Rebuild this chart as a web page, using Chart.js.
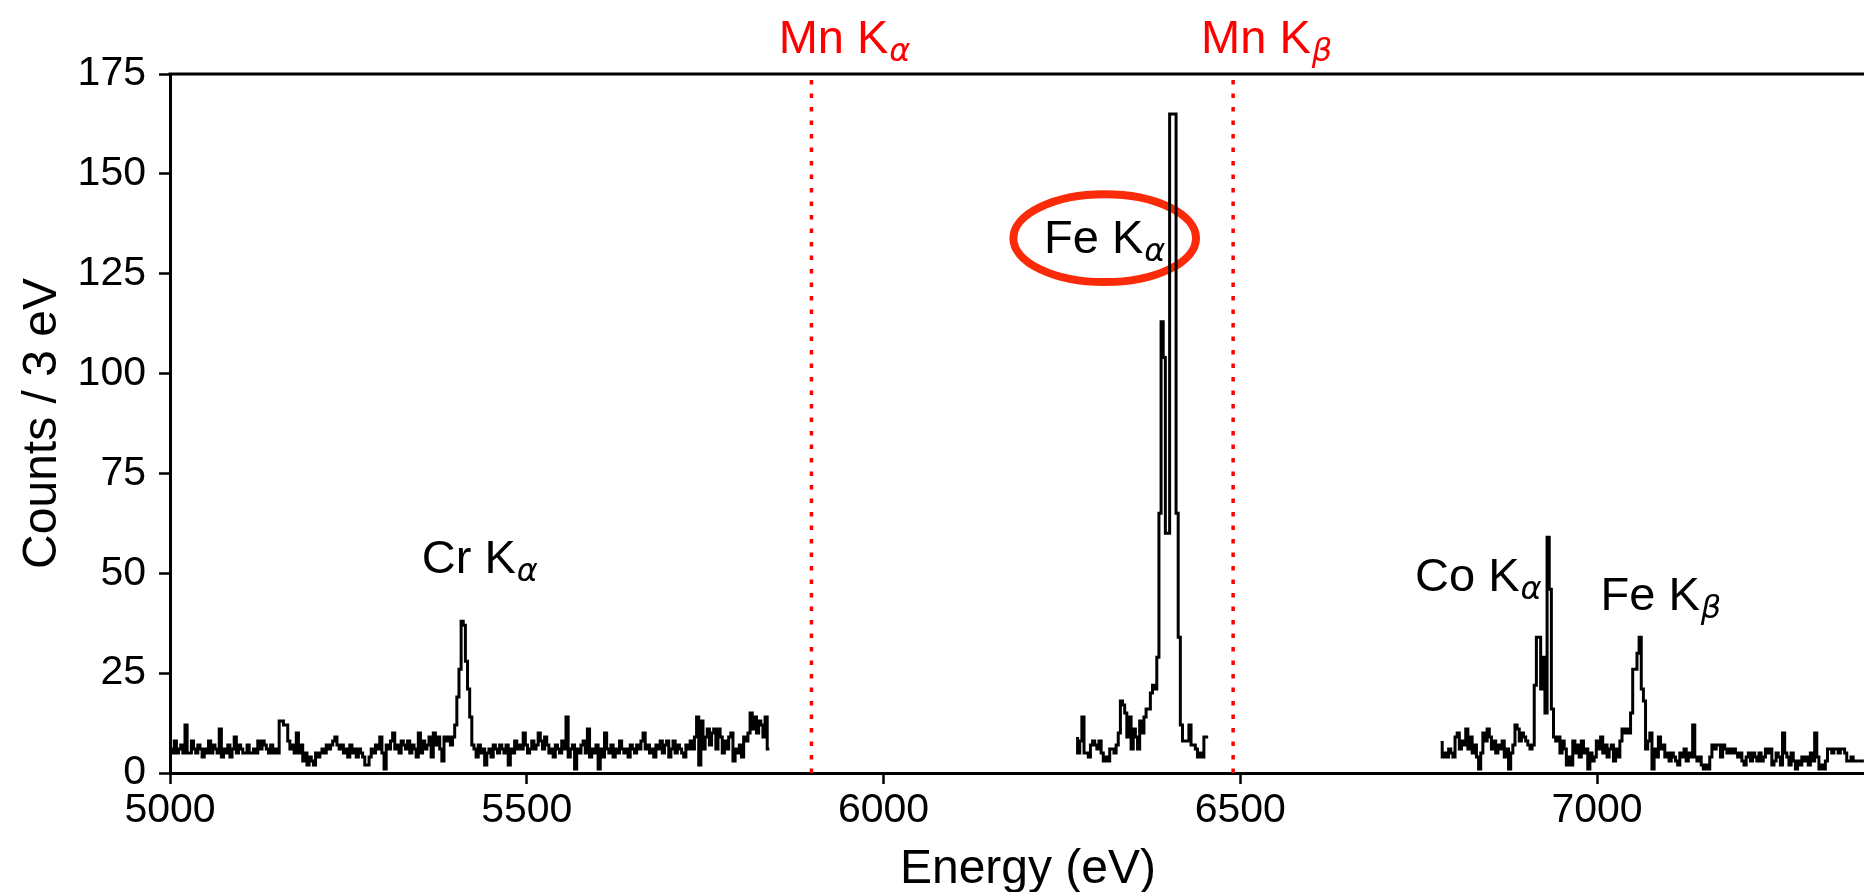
<!DOCTYPE html>
<html>
<head>
<meta charset="utf-8">
<title>X-ray spectrum</title>
<script src="https://cdn.jsdelivr.net/npm/chart.js@4.4.1/dist/chart.umd.min.js"></script>
<style>
    html, body { margin: 0; padding: 0; background: #fff; overflow: hidden; }
    #wrap { width: 1900px; height: 892px; }
</style>
</head>
<body>
<div id="wrap"><canvas id="spectrum" width="1900" height="892"></canvas></div>
<script>
// Bin width of the spectrum (eV)
const binWidth = 3;

// Segment 1: 5000 - 5840 eV (Cr K-alpha region)
const seg1Start = 5000;
const seg1Counts = [
    9, 6, 5, 8, 5, 6, 7, 5, 12, 5,
    5, 8, 6, 5, 7, 6, 4, 6, 5, 8,
    5, 7, 6, 5, 11, 4, 6, 5, 7, 4,
    6, 9, 5, 7, 6, 5, 5, 7, 5, 5,
    6, 5, 8, 6, 8, 7, 6, 5, 7, 5,
    6, 5, 13, 13, 12, 12, 8, 6, 7, 5,
    10, 5, 7, 3, 5, 2, 4, 3, 2, 5,
    4, 5, 6, 5, 7, 6, 7, 8, 9, 7,
    6, 7, 5, 6, 4, 7, 5, 6, 4, 6,
    5, 4, 2, 2, 4, 6, 5, 7, 6, 9,
    5, 1, 7, 6, 8, 10, 6, 7, 5, 8,
    7, 6, 8, 5, 7, 6, 4, 10, 5, 8,
    6, 7, 9, 4, 10, 7, 9, 6, 3, 9,
    8, 9, 7, 9, 12, 19, 26, 38, 37, 28,
    21, 14, 7, 6, 4, 7, 5, 6, 2, 5,
    6, 4, 7, 6, 5, 7, 6, 5, 7, 2,
    6, 5, 8, 6, 7, 6, 10, 7, 5, 6,
    8, 6, 7, 10, 8, 6, 9, 7, 5, 6,
    4, 7, 6, 5, 8, 6, 14, 4, 6, 7,
    1, 6, 5, 7, 8, 5, 11, 4, 6, 5,
    7, 1, 6, 4, 10, 6, 5, 7, 4, 6,
    5, 8, 6, 5, 6, 4, 7, 6, 5, 7,
    6, 8, 10, 6, 7, 5, 6, 4, 7, 6,
    8, 5, 7, 8, 4, 6, 8, 5, 7, 6,
    5, 4, 7, 6, 8, 6, 9, 14, 2, 13,
    6, 9, 11, 7, 10, 11, 6, 11, 9, 5,
    8, 6, 9, 10, 3, 6, 5, 7, 4, 9,
    8, 10, 15, 11, 14, 10, 13, 12, 9, 14,
    6
];

// Segment 2: 6272 - 6455 eV (Fe K-alpha)
const seg2Start = 6272;
const seg2Counts = [
    9, 5, 8, 14, 5, 5, 4, 7, 8, 7,
    6, 8, 5, 3, 4, 3, 6, 6, 5, 7,
    10, 18, 17, 15, 9, 14, 6, 11, 9, 6,
    13, 10, 14, 16, 16, 20, 22, 21, 29, 65,
    113, 104, 60, 60, 165, 165, 165, 65, 34, 12,
    8, 8, 8, 12, 7, 7, 6, 4, 5, 4,
    9, 9
];

// Segment 3: 6783 eV to the right edge (Co K-alpha, Fe K-beta)
const seg3Start = 6783;
const seg3Counts = [
    8, 4, 5, 4, 6, 5, 4, 9, 10, 6,
    8, 7, 11, 6, 9, 5, 7, 4, 1, 5,
    10, 8, 11, 9, 6, 8, 5, 7, 6, 8,
    4, 6, 1, 5, 7, 12, 11, 8, 10, 9,
    8, 7, 6, 7, 22, 34, 34, 21, 29, 15,
    59, 46, 16, 9, 8, 9, 5, 8, 6, 2,
    4, 2, 8, 5, 7, 4, 8, 5, 6, 1,
    5, 3, 4, 8, 6, 9, 5, 7, 4, 6,
    7, 3, 6, 4, 8, 11, 10, 11, 10, 15,
    26, 26, 30, 34, 21, 18, 6, 8, 10, 1,
    6, 4, 9, 6, 7, 4, 5, 3, 5, 4,
    3, 2, 5, 4, 6, 3, 5, 4, 12, 4,
    3, 4, 2, 1, 2, 1, 4, 7, 6, 7,
    7, 4, 7, 6, 5, 6, 5, 6, 5, 4,
    5, 3, 2, 4, 5, 3, 5, 4, 3, 5,
    3, 4, 6, 5, 6, 2, 3, 5, 4, 2,
    10, 5, 4, 2, 5, 3, 1, 3, 2, 4,
    3, 4, 2, 5, 3, 10, 4, 1, 2, 1,
    3, 6, 6, 5, 6, 6, 5, 6, 6, 5,
    3, 3, 4, 3, 3, 3, 3, 3
];

// Mn lines (eV)
const mnEnergies = [5899, 6490];

// Axis settings
const xMin = 5000, xMax = 7405;
const xTicks = [5000, 5500, 6000, 6500, 7000];
const yMin = 0, yMax = 175, yStep = 25;

// Peak labels: text, subscript, left edge (eV), baseline (counts)
const peakLabels = [
    { main: 'Mn K', sub: 'α', x: 5853, y: 180.3, color: '#ff0000' },
    { main: 'Mn K', sub: 'β', x: 6445, y: 180.3, color: '#ff0000' },
    { main: 'Cr K', sub: 'α', x: 5353, y: 50.0, color: '#000000' },
    { main: 'Fe K', sub: 'α', x: 6225, y: 130.2, color: '#000000' },
    { main: 'Co K', sub: 'α', x: 6745, y: 45.6, color: '#000000' },
    { main: 'Fe K', sub: 'β', x: 7005, y: 40.8, color: '#000000' }
];

// Red ring round the Fe K-alpha label: centre (eV, counts), half width (eV), half height (counts)
const ring = { x: 6310, y: 133.9, rx: 128, ry: 11 };

const FONT = 'Liberation Sans';

function stepPoints(start, counts) {
    return counts.map((c, i) => ({ x: start + i * binWidth, y: c }));
}

function spectrumSet(start, counts) {
    return {
        data: stepPoints(start, counts),
        stepped: 'after',
        borderColor: '#000000',
        borderWidth: 3,
        pointRadius: 0,
        fill: false
    };
}

function mnSet(energy) {
    return {
        data: [{ x: energy, y: yMin }, { x: energy, y: yMax }],
        borderColor: '#ff0000',
        borderWidth: 3.5,
        borderDash: [4.5, 9],
        pointRadius: 0,
        fill: false
    };
}

// Draws the top spine, the ring and the peak labels
const annotate = {
    id: 'annotate',
    beforeDatasetsDraw(chart) {
        const { ctx, scales: { x, y } } = chart;
        const cx = x.getPixelForValue(ring.x);
        const cy = y.getPixelForValue(ring.y);
        const rx = x.getPixelForValue(ring.x + ring.rx) - cx;
        const ry = cy - y.getPixelForValue(ring.y + ring.ry);
        ctx.save();
        ctx.strokeStyle = '#fb2a08';
        ctx.lineWidth = 8;
        ctx.beginPath();
        ctx.ellipse(cx, cy, rx, ry, 0, 0, Math.PI * 2);
        ctx.stroke();
        ctx.restore();
    },
    afterDatasetsDraw(chart) {
        const { ctx, chartArea, scales: { x, y } } = chart;
        ctx.save();
        ctx.strokeStyle = '#000000';
        ctx.lineWidth = 3;
        ctx.beginPath();
        ctx.moveTo(chartArea.left - 1.5, chartArea.top);
        ctx.lineTo(chartArea.right, chartArea.top);
        ctx.stroke();

        ctx.textAlign = 'left';
        ctx.textBaseline = 'alphabetic';
        peakLabels.forEach(l => {
            const px = x.getPixelForValue(l.x);
            const py = y.getPixelForValue(l.y);
            ctx.fillStyle = l.color;
            ctx.font = '47px "' + FONT + '"';
            ctx.fillText(l.main, px, py);
            const w = ctx.measureText(l.main).width;
            ctx.font = 'italic 32px "DejaVu Sans"';
            ctx.fillText(l.sub, px + w + 1, py + 8);
        });
        ctx.restore();
    }
};

const ctx = document.getElementById('spectrum').getContext('2d');
const spectrumChart = new Chart(ctx, {
    type: 'line',
    data: {
        datasets: [
            spectrumSet(seg1Start, seg1Counts),
            spectrumSet(seg2Start, seg2Counts),
            spectrumSet(seg3Start, seg3Counts),
            ...mnEnergies.map(mnSet)
        ]
    },
    options: {
        responsive: false,
        animation: false,
        devicePixelRatio: 1,
        events: [],
        layout: { padding: { top: 74, right: 14, bottom: 0, left: 0 } },
        plugins: {
            legend: { display: false },
            tooltip: { enabled: false }
        },
        scales: {
            x: {
                type: 'linear',
                min: xMin,
                max: xMax,
                afterBuildTicks: s => { s.ticks = xTicks.map(v => ({ value: v })); },
                afterFit: s => { s.height = 119; },
                ticks: {
                    color: '#000000',
                    font: { family: FONT, size: 41 },
                    padding: 2,
                    maxRotation: 0,
                    autoSkip: false,
                    callback: v => String(v)
                },
                grid: { display: true, drawOnChartArea: false, drawTicks: true, tickLength: 11, tickWidth: 2.5, tickColor: '#000000' },
                border: { display: true, color: '#000000', width: 3 },
                title: {
                    display: true,
                    text: 'Energy (eV)',
                    color: '#000000',
                    font: { family: FONT, size: 48 },
                    padding: { top: 0, bottom: -7 }
                }
            },
            y: {
                min: yMin,
                max: yMax,
                afterFit: s => { s.width = 170; },
                ticks: {
                    stepSize: yStep,
                    color: '#000000',
                    font: { family: FONT, size: 41 },
                    padding: 13
                },
                grid: { display: true, drawOnChartArea: false, drawTicks: true, tickLength: 11, tickWidth: 2.5, tickColor: '#000000' },
                border: { display: true, color: '#000000', width: 3 },
                title: {
                    display: true,
                    text: 'Counts / 3 eV',
                    color: '#000000',
                    font: { family: FONT, size: 48 },
                    padding: { top: 14, bottom: 0 }
                }
            }
        }
    },
    plugins: [annotate]
});
</script>
</body>
</html>
